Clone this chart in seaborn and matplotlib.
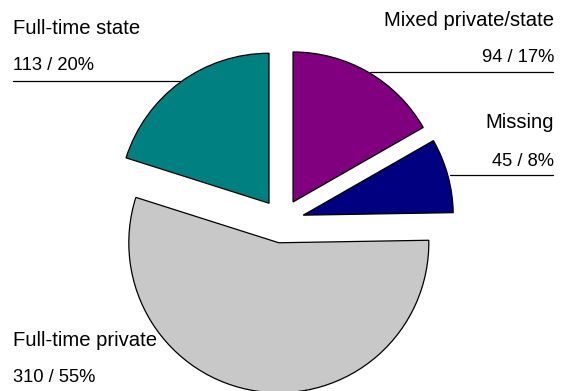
import matplotlib
matplotlib.use("Agg")
import matplotlib.pyplot as plt
import seaborn as sns

categories = ["Mixed private/state", "Missing", "Full-time private", "Full-time state"]
counts = [94, 45, 310, 113]
colors = ["#800080", "#000080", "#c8c8c8", "#008080"]

sns.set_theme(style="white")
plt.rcParams["font.family"] = ["Liberation Sans", "DejaVu Sans"]

W, H = 563, 391
fig = plt.figure(figsize=(W / 100, H / 100), dpi=100)
ax = fig.add_axes([0, 0, 1, 1])

total = sum(counts)
# explode is in data units (pixels here)
ax.pie(counts, colors=colors, startangle=90, counterclock=False,
       explode=[22] * len(counts), radius=150, center=(282, H - 221),
       wedgeprops={"edgecolor": "black", "linewidth": 0.9}, frame=False)
ax.set_xlim(0, W)
ax.set_ylim(0, H)
ax.set_aspect("equal")
ax.axis("off")

pcts = [round(c / total * 100) for c in counts]

# label placement: (x, y of name, y of value, alignment, leader line)
layout = {
    "Mixed private/state": (554, 20, 58, "right", (370, 553, 72)),
    "Missing": (554, 122, 161, "right", (450, 553, 175)),
    "Full-time private": (13, 340, 378, "left", None),
    "Full-time state": (13, 28, 66, "left", (13, 180, 81)),
}
for name, c, p in zip(categories, counts, pcts):
    x, y1, y2, ha, line = layout[name]
    ax.text(x, H - y1, name, ha=ha, va="center", fontsize=14.6, color="black")
    ax.text(x, H - y2, f"{c} / {p}%", ha=ha, va="center", fontsize=13.2, color="black")
    if line:
        ax.plot([line[0], line[1]], [H - line[2], H - line[2]], color="black", lw=0.9)

fig.savefig("out.png", dpi=100)
